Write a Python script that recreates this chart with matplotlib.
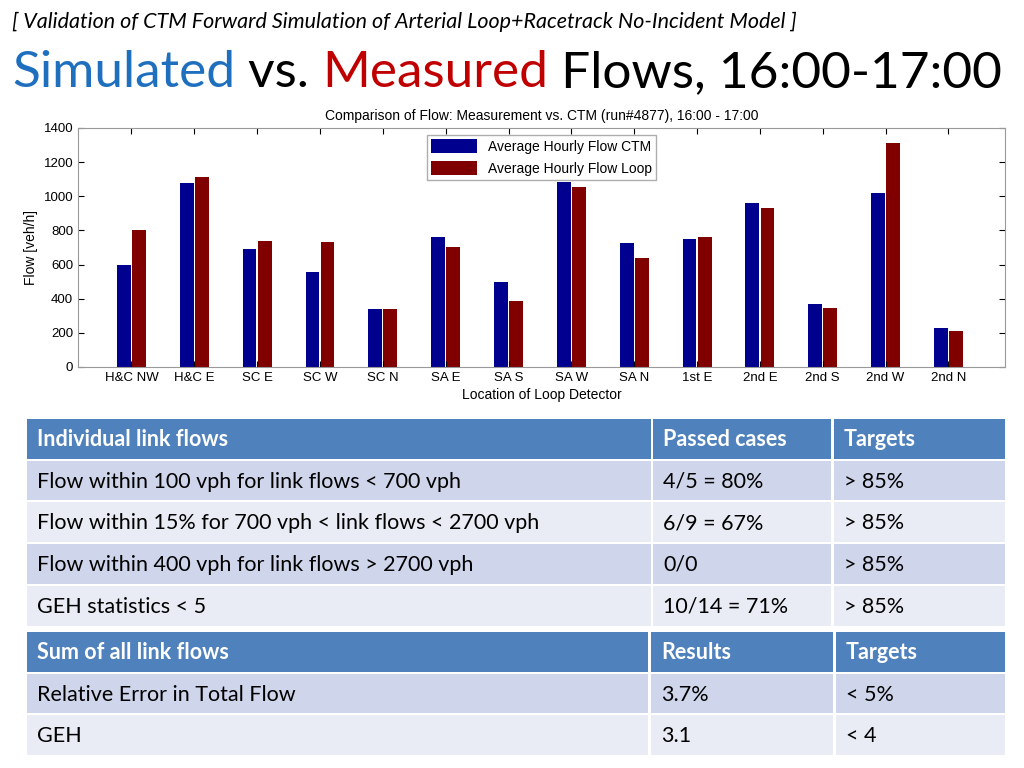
import matplotlib.pyplot as plt
import numpy as np
from matplotlib.patches import Rectangle

locations = ['H&C NW', 'H&C E', 'SC E', 'SC W', 'SC N', 'SA E', 'SA S', 'SA W',
             'SA N', '1st E', '2nd E', '2nd S', '2nd W', '2nd N']
flow_ctm = [600, 1075, 690, 555, 340, 760, 495, 1085, 725, 750, 960, 370, 1020, 230]
flow_loop = [805, 1115, 740, 735, 340, 700, 385, 1055, 640, 760, 930, 345, 1315, 210]

table1_header = ['Individual link flows', 'Passed cases', 'Targets']
table1_rows = [
    ['Flow within 100 vph for link flows < 700 vph', '4/5 = 80%', '> 85%'],
    ['Flow within 15% for 700 vph < link flows < 2700 vph', '6/9 = 67%', '> 85%'],
    ['Flow within 400 vph for link flows > 2700 vph', '0/0', '> 85%'],
    ['GEH statistics < 5', '10/14 = 71%', '> 85%'],
]
table2_header = ['Sum of all link flows', 'Results', 'Targets']
table2_rows = [
    ['Relative Error in Total Flow', '3.7%', '< 5%'],
    ['GEH', '3.1', '< 4'],
]

fig = plt.figure(figsize=(10.24, 7.68), dpi=100)
font = 'Lato'
plt.rcParams['font.family'] = 'Liberation Sans'

# overlay in pixel coordinates for slide text and tables
ov = fig.add_axes([0, 0, 1, 1])
ov.set_xlim(0, 1024)
ov.set_ylim(768, 0)
ov.axis('off')

ov.text(12, 22, '[ Validation of CTM Forward Simulation of Arterial Loop+Racetrack No-Incident Model ]',
        fontsize=15.5, style='italic', family=font, va='center', ha='left')
x = 12
for word, col in [('Simulated', '#1F6FBF'), (' vs. ', 'black'), ('Measured', '#C00000'),
                  (' Flows, 16:00-17:00', 'black')]:
    t = ov.text(x, 73, word, fontsize=37, family=font, color=col, va='center', ha='left')
    fig.canvas.draw()
    bb = t.get_window_extent()
    x += bb.width

def draw_table(y0, row_h, cols, header, rows):
    y = y0
    for i, row in enumerate([header] + rows):
        if i == 0:
            fc, tc, w = '#4F81BD', 'white', 'bold'
        else:
            fc, tc, w = ('#CFD5EA' if i % 2 == 1 else '#E9EBF5'), 'black', 'normal'
        for (cx0, cx1), txt in zip(cols, row):
            ov.add_patch(Rectangle((cx0, y), cx1 - cx0, row_h - 2, facecolor=fc, edgecolor='none'))
            ov.text(cx0 + 10, y + row_h / 2, txt, fontsize=15.5, family=font,
                    color=tc, weight=w, va='center', ha='left')
        y += row_h

draw_table(419, 41.7, [(27, 651), (653, 831), (834, 1005)], table1_header, table1_rows)
draw_table(632, 41.7, [(27, 648), (651, 833), (836, 1005)], table2_header, table2_rows)

# bar chart
ax = fig.add_axes([78 / 1024, 1 - 367 / 768, 927 / 1024, 239 / 768])
idx = np.arange(len(locations))
w = 0.22
ax.bar(idx - w / 2 - 0.01, flow_ctm, w, color='#00008F', label='Average Hourly Flow CTM')
ax.bar(idx + w / 2 + 0.01, flow_loop, w, color='#800000', label='Average Hourly Flow Loop')
ax.set_xlim(-0.85, len(locations) - 0.1)
ax.set_ylim(0, 1400)
ax.set_yticks(range(0, 1401, 200))
ax.set_xticks(idx)
ax.set_xticklabels(locations)
ax.tick_params(direction='in', top=True, right=True, labelsize=9.5, length=4)
for s in ax.spines.values():
    s.set_color('#999999')
ax.set_xlabel('Location of Loop Detector', fontsize=10, labelpad=3)
ax.set_ylabel('Flow [veh/h]', fontsize=10)
ax.set_title('Comparison of Flow: Measurement vs. CTM (run#4877), 16:00 - 17:00', fontsize=10, pad=6)
ax.legend(loc='upper center', bbox_to_anchor=(0.5, 1.0), fontsize=10, fancybox=False,
          edgecolor='#999999', handlelength=3.3, handleheight=1.2, borderpad=0.3)

fig.savefig('out.png', dpi=100)
